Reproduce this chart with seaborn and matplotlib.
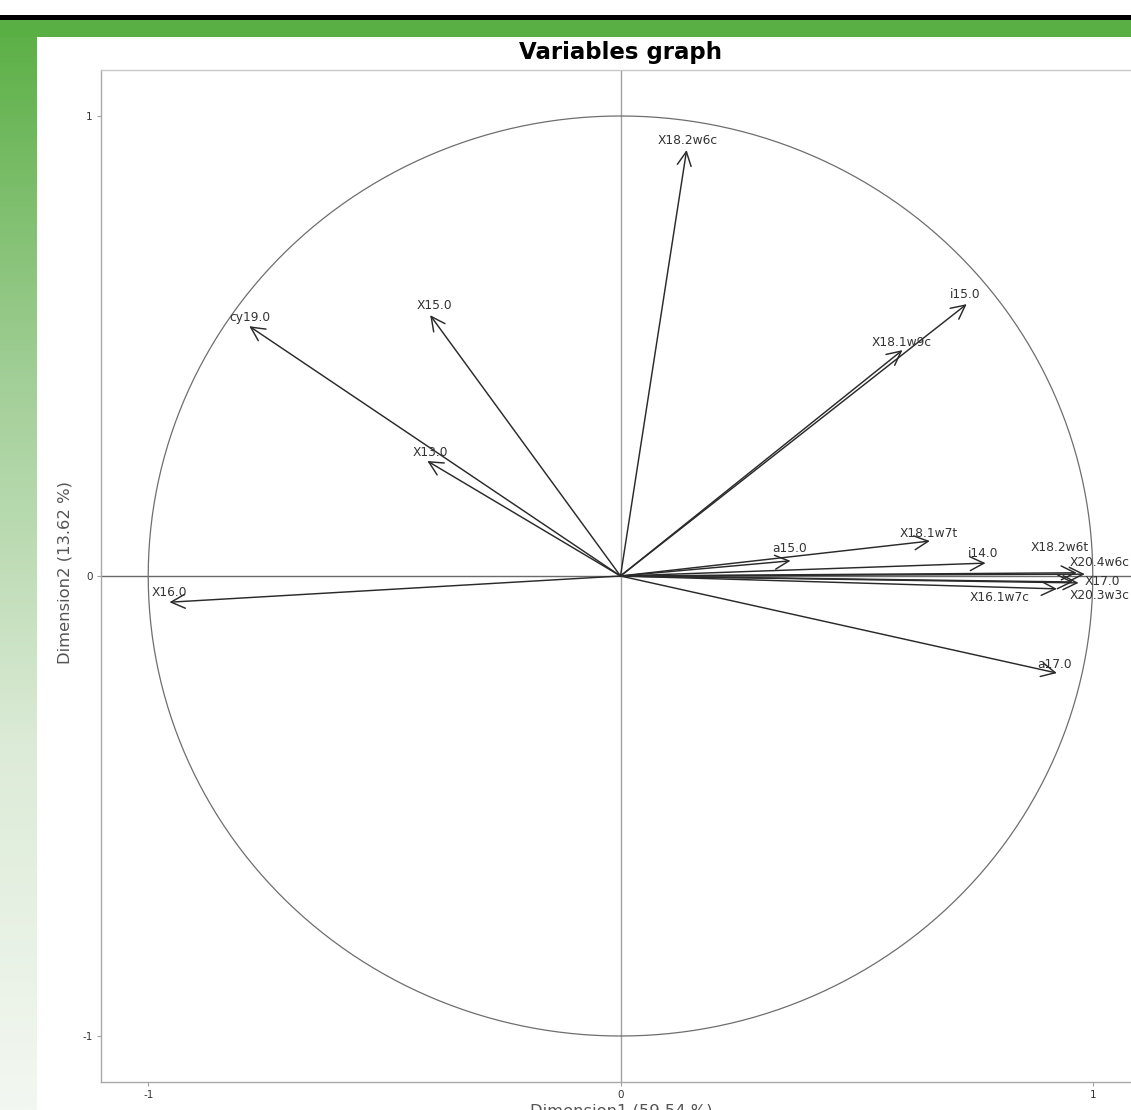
import numpy as np
import pandas as pd
import matplotlib
matplotlib.use("Agg")
import matplotlib.pyplot as plt
from matplotlib.colors import LinearSegmentedColormap
import seaborn as sns

# Correlation of each variable with the first two principal dimensions
variables = ["X18.2w6c", "i15.0", "X18.1w9c", "X15.0", "cy19.0", "X13.0", "X16.0",
             "a15.0", "X18.1w7t", "i14.0", "X18.2w6t", "X20.4w6c", "X17.0",
             "X20.3w3c", "X16.1w7c", "a17.0"]
dim1 = [0.140, 0.733, 0.597, -0.403, -0.786, -0.409, -0.955,
        0.360, 0.655, 0.773, 0.966, 0.983, 0.970,
        0.958, 0.924, 0.924]
dim2 = [0.926, 0.591, 0.491, 0.567, 0.543, 0.250, -0.057,
        0.033, 0.076, 0.028, 0.007, 0.004, -0.015,
        -0.013, -0.028, -0.211]

title = "Variables graph"
xlabel = "Dimension1 (59.54 %)"
ylabel = "Dimension2 (13.62 %)"
ticks = [-1, 0, 1]

# label placement relative to the arrow tip, in pixels (x right, y up)
label_shift = {
    "X18.2w6c": (1, 10), "i15.0": (-1, 10), "X18.1w9c": (-1, 8), "X15.0": (4, 10),
    "cy19.0": (1, 9), "X13.0": (3, 9), "X16.0": (0, 10), "a15.0": (-1, 12),
    "X18.1w7t": (-1, 8), "i14.0": (-2, 10), "X18.2w6t": (-17, 25),
    "X20.4w6c": (15, 12), "X17.0": (24, 1), "X20.3w3c": (27, -14),
    "X16.1w7c": (-57, -9), "a17.0": (-2, 9),
}

df = pd.DataFrame({"variable": variables, "Dim1": dim1, "Dim2": dim2})

sns.set_theme(style="white")
plt.rcParams["font.family"] = ["DejaVu Sans"]

W, H = 1131, 1110
fig = plt.figure(figsize=(W / 100, H / 100), dpi=100)
fig.patch.set_facecolor("white")

# page frame: black rule, green band and fading green side strip
bg = fig.add_axes([0, 0, 1, 1], zorder=-5)
bg.axis("off")
bg.add_patch(plt.Rectangle((0, 15), W, 5, color="black", lw=0))
bg.add_patch(plt.Rectangle((0, 20), W, 16.5, color="#5aaf44", lw=0))
fade = LinearSegmentedColormap.from_list("fade", ["#5aaf44", "#a3cf98", "#dcebd7", "#f3f7f1"])
grad = np.linspace(0, 1, 400).reshape(-1, 1)
bg.imshow(grad, cmap=fade, extent=(0, 36.5, H, 20), aspect="auto", interpolation="bilinear")
bg.set_xlim(0, W)
bg.set_ylim(H, 0)

# main plotting area (extends slightly past the right page edge)
left, right, top, bottom = 101, 1140, 70, 1082
ax = fig.add_axes([left / W, 1 - bottom / H, (right - left) / W, (bottom - top) / H])
ax.set_xlim(-1.1, 1.1)
ax.set_ylim(-1.1, 1.1)

# unit correlation circle
theta = np.linspace(0, 2 * np.pi, 721)
circle = pd.DataFrame({"x": np.cos(theta), "y": np.sin(theta)})
sns.lineplot(data=circle, x="x", y="y", sort=False, estimator=None, color="#6e6e6e",
             lw=0.9, ax=ax)

ax.axhline(0, color="#6a6a6a", lw=1, zorder=1)
ax.axvline(0, color="#a0a0a0", lw=1, zorder=1)

for _, row in df.iterrows():
    ax.annotate("", xy=(row.Dim1, row.Dim2), xytext=(0, 0),
                arrowprops=dict(arrowstyle="->,head_length=0.5,head_width=0.25",
                                color="#2a2a2a", lw=1.05, shrinkA=0, shrinkB=0,
                                mutation_scale=20), zorder=3)
    dx, dy = label_shift[row.variable]
    ax.annotate(row.variable, xy=(row.Dim1, row.Dim2), xytext=(dx, dy),
                textcoords="offset pixels", ha="center", va="center",
                fontsize=8.8, color="#333333", zorder=4)

ax.set_xticks(ticks)
ax.set_yticks(ticks)
ax.set_xticklabels([str(t) for t in ticks])
ax.set_yticklabels([str(t) for t in ticks])
ax.tick_params(axis="both", length=3, width=0.8, color="#a0a0a0", labelsize=7.5,
               labelcolor="#333333", pad=3, left=True, bottom=True)
for s in ax.spines.values():
    s.set_color("#a8a8a8")
    s.set_linewidth(1)
ax.spines["top"].set_color("#c8c8c8")
ax.set_xlabel("")
ax.set_ylabel("")

fig.text((left + right) / 2 / W, 1 - 52 / H, title, ha="center", va="center",
         fontsize=16.5, fontweight="bold", color="black")
fig.text(65 / W, 1 - 572 / H, ylabel, rotation=90, ha="center", va="center",
         fontsize=11.8, color="#555555")
fig.text(621 / W, 1 - 1104 / H, xlabel, ha="center", va="top",
         fontsize=11.8, color="#555555")

fig.savefig("out.png", dpi=100)
